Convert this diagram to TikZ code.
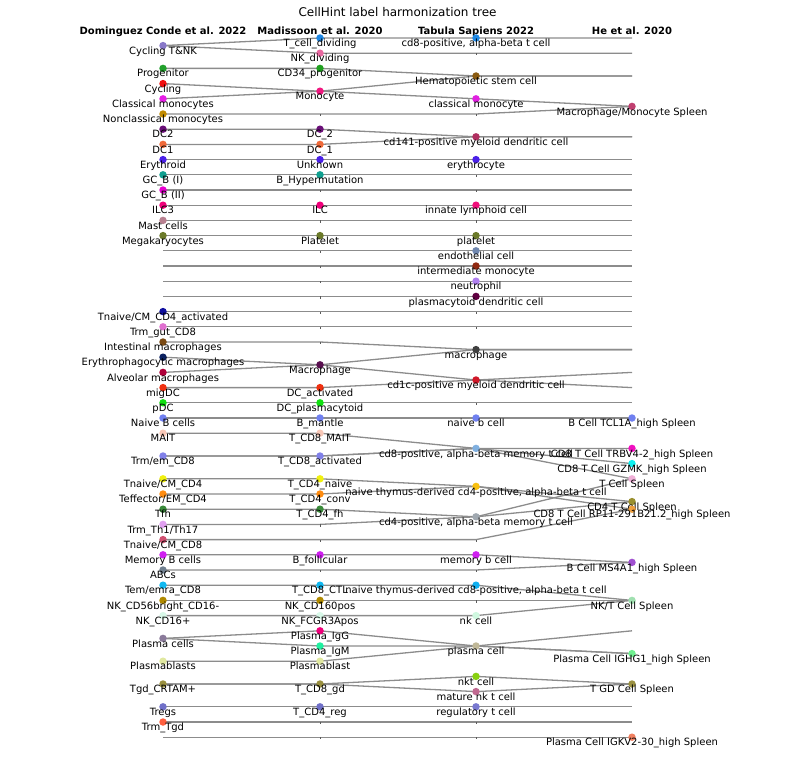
\documentclass[tikz,border=0pt]{standalone}
\usepackage{fontspec}
\setmainfont{DejaVu Sans}
\pgfdeclarelayer{bg}
\pgfsetlayers{bg,main}
\definecolor{linkgray}{HTML}{8C8C8C}
\definecolor{tickgray}{HTML}{5A5A5A}
\tikzset{
  dot/.style={circle, inner sep=0pt, minimum size=7.5pt, draw=none},
  lab/.style={font=\fontsize{10}{12}\selectfont, anchor=base, inner sep=0pt, text=black},
  hdr/.style={font=\fontsize{10}{12}\selectfont\bfseries, anchor=base, inner sep=0pt},
  ttl/.style={font=\fontsize{12}{14}\selectfont, anchor=base, inner sep=0pt},
  link/.style={draw=linkgray, line width=1.3pt, line join=round},
}
\newcommand\dotpt[5]{\definecolor{col#1}{HTML}{#4}\node[dot,fill=col#1] (#1) at (#2,#3) {};\node[lab] (#1-t) at (#2,#3+8.6) {#5};}
\newcommand\tickpt[3]{\coordinate (#1) at (#2,#3);\fill[tickgray] (#2-0.5,#3) rectangle (#2+0.5,#3+2.2);}
\newcommand\nopt[3]{\coordinate (#1) at (#2,#3);}
\newcommand\pathrow[4]{\draw[link] (#1.center) -- (#2.center) -- (#3.center) -- (#4.center);}
\begin{document}
\begin{tikzpicture}[x=1pt,y=-1pt]
\useasboundingbox (0,0) rectangle (795,760);
\node[ttl] (title) at (397.5,17) {CellHint label harmonization tree};
\node[hdr] (h1) at (163,34.5) {Dominguez Conde et al. 2022};
\node[hdr] (h2) at (320,34.5) {Madissoon et al. 2020};
\node[hdr] (h3) at (476,34.5) {Tabula Sapiens 2022};
\node[hdr] (h4) at (632,34.5) {He et al. 2020};
% ---------- column A ----------
\dotpt{Actnk}{163}{45.6}{8878C8}{Cycling T\&NK}
\dotpt{Aprog}{163}{68.4}{22A02C}{Progenitor}
\dotpt{Acyc}{163}{83.6}{F01010}{Cycling}
\dotpt{Aclm}{163}{98.8}{E61EE6}{Classical monocytes}
\dotpt{Ancm}{163}{114}{C08A00}{Nonclassical monocytes}
\dotpt{Adctwo}{163}{129.2}{6A1078}{DC2}
\dotpt{Adcone}{163}{144.4}{F06A3A}{DC1}
\dotpt{Aery}{163}{159.6}{4A20E8}{Erythroid}
\dotpt{Agcbone}{163}{174.8}{10A090}{GC\_B (I)}
\dotpt{Agcbtwo}{163}{190}{E800D0}{GC\_B (II)}
\dotpt{Ailc}{163}{205.2}{F0007A}{ILC3}
\dotpt{Amast}{163}{220.4}{B88090}{Mast cells}
\dotpt{Amk}{163}{235.6}{6B7A2A}{Megakaryocytes}
\nopt{Aa}{163}{250.8}
\nopt{Ab}{163}{266}
\nopt{Ac}{163}{281.2}
\nopt{Ad}{163}{296.4}
\dotpt{Atcma}{163}{311.6}{1010A0}{Tnaive/CM\_CD4\_activated}
\dotpt{Atrmg}{163}{326.8}{E070D0}{Trm\_gut\_CD8}
\dotpt{Aimac}{163}{342}{7A4A14}{Intestinal macrophages}
\dotpt{Aemac}{163}{357.2}{0A2060}{Erythrophagocytic macrophages}
\dotpt{Aamac}{163}{372.4}{B0003A}{Alveolar macrophages}
\dotpt{Amig}{163}{387.6}{F03010}{migDC}
\dotpt{Apdc}{163}{402.8}{10E010}{pDC}
\dotpt{Anb}{163}{418}{7080F0}{Naive B cells}
\dotpt{Amait}{163}{433.2}{F8C8B8}{MAIT}
\dotpt{Atrmeight}{163}{456}{8080E8}{Trm/em\_CD8}
\dotpt{Atnfour}{163}{478.8}{F0F010}{Tnaive/CM\_CD4}
\dotpt{Atefour}{163}{494}{FF8C10}{Teffector/EM\_CD4}
\dotpt{Atfh}{163}{509.2}{3A8A3A}{Tfh}
\dotpt{Athone}{163}{524.4}{E0A0F0}{Trm\_Th1/Th17}
\dotpt{Atneight}{163}{539.6}{D05070}{Tnaive/CM\_CD8}
\dotpt{Amb}{163}{554.8}{D020F0}{Memory B cells}
\dotpt{Aabc}{163}{570}{708090}{ABCs}
\dotpt{Atem}{163}{585.2}{10B8F0}{Tem/emra\_CD8}
\dotpt{Ankbr}{163}{600.4}{B08A00}{NK\_CD56bright\_CD16-}
\dotpt{Ankcd}{163}{615.6}{D8F8E8}{NK\_CD16+}
\dotpt{Apc}{163}{638.4}{8A7A9A}{Plasma cells}
\dotpt{Apb}{163}{661.2}{E0E8A0}{Plasmablasts}
\dotpt{Atgd}{163}{684}{9A9040}{Tgd\_CRTAM+}
\dotpt{Atreg}{163}{706.8}{7070C8}{Tregs}
\dotpt{Atrmgd}{163}{722}{FF6040}{Trm\_Tgd}
\nopt{Ae}{163}{737.2}
% ---------- column B ----------
\dotpt{Btcd}{320}{38}{1E88E5}{T\_cell\_dividing}
\dotpt{Bnkd}{320}{53.2}{E868A0}{NK\_dividing}
\dotpt{Bcd}{320}{68.4}{20A020}{CD34\_progenitor}
\dotpt{Bmono}{320}{91.2}{F01880}{Monocyte}
\tickpt{Bf}{320}{114}
\dotpt{Bdctwo}{320}{129.2}{6A1078}{DC\_2}
\dotpt{Bdcone}{320}{144.4}{F06A3A}{DC\_1}
\dotpt{Bunk}{320}{159.6}{4A20E8}{Unknown}
\dotpt{Bbhyp}{320}{174.8}{10A090}{B\_Hypermutation}
\tickpt{Bg}{320}{190}
\dotpt{Bilc}{320}{205.2}{F0007A}{ILC}
\tickpt{Bh}{320}{220.4}
\dotpt{Bplt}{320}{235.6}{6B7A2A}{Platelet}
\tickpt{Ba}{320}{250.8}
\tickpt{Bb}{320}{266}
\tickpt{Bc}{320}{281.2}
\tickpt{Bd}{320}{296.4}
\tickpt{Bi}{320}{311.6}
\tickpt{Bj}{320}{326.8}
\tickpt{Bk}{320}{342}
\dotpt{Bmac}{320}{364.8}{5A1050}{Macrophage}
\dotpt{Bdca}{320}{387.6}{F03010}{DC\_activated}
\dotpt{Bdcp}{320}{402.8}{10E010}{DC\_plasmacytoid}
\dotpt{Bbm}{320}{418}{7080F0}{B\_mantle}
\dotpt{Bmait}{320}{433.2}{F8C8B8}{T\_CD8\_MAIT}
\dotpt{Bact}{320}{456}{8080E8}{T\_CD8\_activated}
\dotpt{Bnfour}{320}{478.8}{F0F010}{T\_CD4\_naive}
\dotpt{Bcfour}{320}{494}{FF8C10}{T\_CD4\_conv}
\dotpt{Bfh}{320}{509.2}{3A8A3A}{T\_CD4\_fh}
\tickpt{Bl}{320}{524.4}
\tickpt{Bm}{320}{539.6}
\dotpt{Bbf}{320}{554.8}{D020F0}{B\_follicular}
\tickpt{Bn}{320}{570}
\dotpt{Bctl}{320}{585.2}{10B8F0}{T\_CD8\_CTL}
\dotpt{Bnkcd}{320}{600.4}{B08A00}{NK\_CD160pos}
\dotpt{Bnkfc}{320}{615.6}{D8F8E8}{NK\_FCGR3Apos}
\dotpt{Bigg}{320}{630.8}{F0007A}{Plasma\_IgG}
\dotpt{Bigm}{320}{646}{20F0A0}{Plasma\_IgM}
\dotpt{Bpb}{320}{661.2}{E0E8A0}{Plasmablast}
\dotpt{Bgd}{320}{684}{9A9040}{T\_CD8\_gd}
\dotpt{Breg}{320}{706.8}{7070C8}{T\_CD4\_reg}
\tickpt{Bo}{320}{722}
\tickpt{Bp}{320}{737.2}
% ---------- column C ----------
\dotpt{Ccdeight}{476}{38}{1E88E5}{cd8-positive, alpha-beta t cell}
\tickpt{Ca}{476}{53.2}
\dotpt{Chsc}{476}{76}{8A5A10}{Hematopoietic stem cell}
\dotpt{Cclm}{476}{98.8}{E020E0}{classical monocyte}
\tickpt{Cb}{476}{114}
\dotpt{Ccdf}{476}{136.8}{B03060}{cd141-positive myeloid dendritic cell}
\dotpt{Cery}{476}{159.6}{4A20E8}{erythrocyte}
\tickpt{Cc}{476}{174.8}
\tickpt{Cd}{476}{190}
\dotpt{Cilc}{476}{205.2}{F0107A}{innate lymphoid cell}
\tickpt{Ce}{476}{220.4}
\dotpt{Cplt}{476}{235.6}{6B7A2A}{platelet}
\dotpt{Cendo}{476}{250.8}{7088B0}{endothelial cell}
\dotpt{Cimono}{476}{266}{902810}{intermediate monocyte}
\dotpt{Cneu}{476}{281.2}{B080F0}{neutrophil}
\dotpt{Cpdc}{476}{296.4}{600040}{plasmacytoid dendritic cell}
\tickpt{Cf}{476}{311.6}
\tickpt{Cg}{476}{326.8}
\dotpt{Cmac}{476}{349.6}{404040}{macrophage}
\dotpt{Ccdc}{476}{380}{D01828}{cd1c-positive myeloid dendritic cell}
\tickpt{Ch}{476}{402.8}
\dotpt{Cnb}{476}{418}{7080F0}{naive b cell}
\dotpt{Cmeight}{476}{448.4}{80B0E0}{cd8-positive, alpha-beta memory t cell}
\dotpt{Cnfour}{476}{486.4}{F8C010}{naive thymus-derived cd4-positive, alpha-beta t cell}
\dotpt{Cmfour}{476}{516.8}{A0A8B0}{cd4-positive, alpha-beta memory t cell}
\tickpt{Ci}{476}{539.6}
\dotpt{Cmb}{476}{554.8}{D020F0}{memory b cell}
\tickpt{Cj}{476}{570}
\dotpt{Cneight}{476}{585.2}{10B0F0}{naive thymus-derived cd8-positive, alpha-beta t cell}
\tickpt{Ck}{476}{600.4}
\dotpt{Cnk}{476}{615.6}{D0F8E0}{nk cell}
\dotpt{Cpc}{476}{646}{C0B898}{plasma cell}
\dotpt{Cnkt}{476}{676.4}{88D010}{nkt cell}
\dotpt{Cmnkt}{476}{691.6}{C06890}{mature nk t cell}
\dotpt{Creg}{476}{706.8}{7878D0}{regulatory t cell}
\tickpt{Cl}{476}{722}
\tickpt{Cm}{476}{737.2}
% ---------- column D ----------
\nopt{Da}{632}{38}
\nopt{Db}{632}{53.2}
\nopt{Dc}{632}{76}
\dotpt{Dmm}{632}{106.4}{C04070}{Macrophage/Monocyte Spleen}
\nopt{Dd}{632}{136.8}
\nopt{De}{632}{159.6}
\nopt{Df}{632}{174.8}
\nopt{Dg}{632}{190}
\nopt{Dh}{632}{205.2}
\nopt{Di}{632}{220.4}
\nopt{Dj}{632}{235.6}
\nopt{Dk}{632}{250.8}
\nopt{Dl}{632}{266}
\nopt{Dm}{632}{281.2}
\nopt{Dn}{632}{296.4}
\nopt{Do}{632}{311.6}
\nopt{Dp}{632}{326.8}
\nopt{Dq}{632}{349.6}
\nopt{Dr}{632}{372.4}
\nopt{Ds}{632}{387.6}
\nopt{Dt}{632}{402.8}
\dotpt{Dtcl}{632}{418}{7080F0}{B Cell TCL1A\_high Spleen}
\dotpt{Dtrbv}{632}{448.4}{F010C0}{CD8 T Cell TRBV4-2\_high Spleen}
\dotpt{Dgzmk}{632}{463.6}{10F0F0}{CD8 T Cell GZMK\_high Spleen}
\dotpt{Dtc}{632}{478.8}{F0B0D8}{T Cell Spleen}
\dotpt{Dcdfour}{632}{501.6}{9A9030}{CD4 T Cell Spleen}
\dotpt{Drp}{632}{509.2}{F0A040}{CD8 T Cell RP11-291B21.2\_high Spleen}
\dotpt{Dms}{632}{562.4}{A050D0}{B Cell MS4A1\_high Spleen}
\dotpt{Dnkt}{632}{600.4}{A0E0B0}{NK/T Cell Spleen}
\nopt{Du}{632}{630.8}
\dotpt{Dighg}{632}{653.6}{70F090}{Plasma Cell IGHG1\_high Spleen}
\dotpt{Dtgd}{632}{684}{9A9040}{T GD Cell Spleen}
\nopt{Dv}{632}{706.8}
\nopt{Dw}{632}{722}
\dotpt{Digkv}{632}{737.2}{F08060}{Plasma Cell IGKV2-30\_high Spleen}
% ---------- connectors ----------
\begin{pgfonlayer}{bg}
\pathrow{Actnk}{Btcd}{Ccdeight}{Da}
\pathrow{Actnk}{Bnkd}{Ca}{Db}
\pathrow{Aprog}{Bcd}{Chsc}{Dc}
\pathrow{Acyc}{Bmono}{Chsc}{Dc}
\pathrow{Aclm}{Bmono}{Cclm}{Dmm}
\pathrow{Ancm}{Bf}{Cb}{Dmm}
\pathrow{Adctwo}{Bdctwo}{Ccdf}{Dd}
\pathrow{Adcone}{Bdcone}{Ccdf}{Dd}
\pathrow{Aery}{Bunk}{Cery}{De}
\pathrow{Agcbone}{Bbhyp}{Cc}{Df}
\pathrow{Agcbtwo}{Bg}{Cd}{Dg}
\pathrow{Ailc}{Bilc}{Cilc}{Dh}
\pathrow{Amast}{Bh}{Ce}{Di}
\pathrow{Amk}{Bplt}{Cplt}{Dj}
\pathrow{Aa}{Ba}{Cendo}{Dk}
\pathrow{Ab}{Bb}{Cimono}{Dl}
\pathrow{Ac}{Bc}{Cneu}{Dm}
\pathrow{Ad}{Bd}{Cpdc}{Dn}
\pathrow{Atcma}{Bi}{Cf}{Do}
\pathrow{Atrmg}{Bj}{Cg}{Dp}
\pathrow{Aimac}{Bk}{Cmac}{Dq}
\pathrow{Aemac}{Bmac}{Cmac}{Dq}
\pathrow{Aamac}{Bmac}{Ccdc}{Dr}
\pathrow{Amig}{Bdca}{Ccdc}{Ds}
\pathrow{Apdc}{Bdcp}{Ch}{Dt}
\pathrow{Anb}{Bbm}{Cnb}{Dtcl}
\pathrow{Amait}{Bmait}{Cmeight}{Dtc}
\pathrow{Atrmeight}{Bact}{Cmeight}{Dtrbv}
\pathrow{Atrmeight}{Bact}{Cmeight}{Dgzmk}
\pathrow{Atnfour}{Bnfour}{Cnfour}{Drp}
\pathrow{Atefour}{Bcfour}{Cnfour}{Dcdfour}
\pathrow{Atfh}{Bfh}{Cmfour}{Dcdfour}
\pathrow{Athone}{Bl}{Cmfour}{Dtc}
\pathrow{Atneight}{Bm}{Ci}{Drp}
\pathrow{Amb}{Bbf}{Cmb}{Dms}
\pathrow{Aabc}{Bn}{Cj}{Dms}
\pathrow{Atem}{Bctl}{Cneight}{Dnkt}
\pathrow{Ankbr}{Bnkcd}{Ck}{Dnkt}
\pathrow{Ankcd}{Bnkfc}{Cnk}{Dnkt}
\pathrow{Apc}{Bigg}{Cpc}{Du}
\pathrow{Apc}{Bigm}{Cpc}{Dighg}
\pathrow{Apb}{Bpb}{Cpc}{Dighg}
\pathrow{Atgd}{Bgd}{Cnkt}{Dtgd}
\pathrow{Atgd}{Bgd}{Cmnkt}{Dtgd}
\pathrow{Atreg}{Breg}{Creg}{Dv}
\pathrow{Atrmgd}{Bo}{Cl}{Dw}
\pathrow{Ae}{Bp}{Cm}{Digkv}
\end{pgfonlayer}
\end{tikzpicture}
\end{document}
